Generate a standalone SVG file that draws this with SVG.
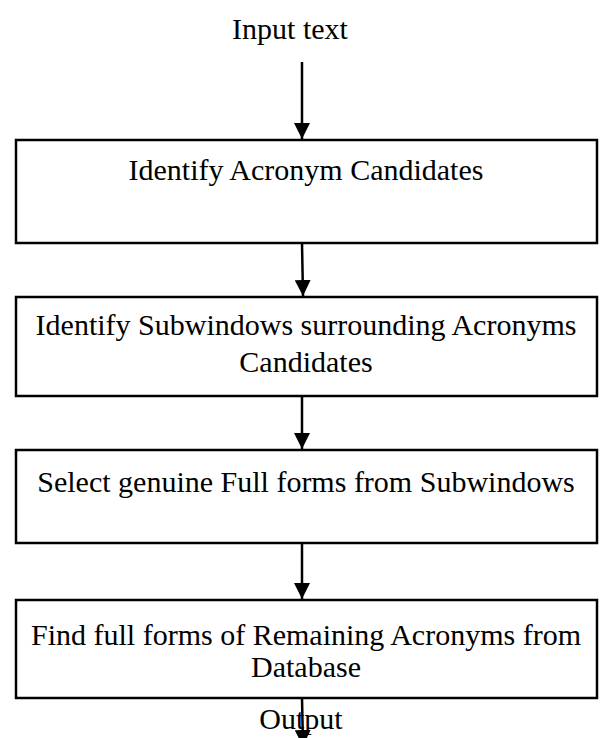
<svg xmlns="http://www.w3.org/2000/svg" width="600" height="738" viewBox="0 0 600 738">
<defs>
<style>
.t{font-family:"Liberation Serif","Times New Roman",serif;font-size:30px;fill:#000;text-anchor:middle}
.b{fill:#fff;stroke:#000;stroke-width:2.5}
.c{stroke:#000;stroke-width:2.5;fill:none}
</style>
<marker id="ah" viewBox="0 0 16 16" refX="16" refY="8" markerWidth="16" markerHeight="16" markerUnits="userSpaceOnUse" orient="auto">
<path d="M0,0 L16,8 L0,16 Z" fill="#000"/>
</marker>
</defs>
<rect width="600" height="738" fill="#fff"/>
<g id="input"><text class="t" x="290" y="39">Input text</text></g>
<g id="n1"><rect class="b" x="16" y="140" width="581" height="103"/><text class="t" x="306" y="180">Identify Acronym Candidates</text></g>
<g id="n2"><rect class="b" x="16" y="297" width="581" height="99"/><text class="t" x="306" y="335">Identify Subwindows surrounding Acronyms</text><text class="t" x="306" y="372">Candidates</text></g>
<g id="n3"><rect class="b" x="16" y="450" width="581" height="93"/><text class="t" x="306" y="492">Select genuine Full forms from Subwindows</text></g>
<g id="n4"><rect class="b" x="16" y="600" width="581" height="98"/><text class="t" x="306" y="645">Find full forms of Remaining Acronyms from</text><text class="t" x="306" y="677">Database</text></g>
<g id="output"><text class="t" x="301" y="729">Output</text></g>
<g id="connectors">
<line class="c" x1="302" y1="62" x2="302" y2="139" marker-end="url(#ah)"/>
<line class="c" x1="302" y1="243" x2="303" y2="296" marker-end="url(#ah)"/>
<line class="c" x1="302" y1="396" x2="302" y2="449" marker-end="url(#ah)"/>
<line class="c" x1="302" y1="543" x2="302" y2="599" marker-end="url(#ah)"/>
<line class="c" x1="302" y1="698" x2="303" y2="746" marker-end="url(#ah)"/>
</g>
</svg>
